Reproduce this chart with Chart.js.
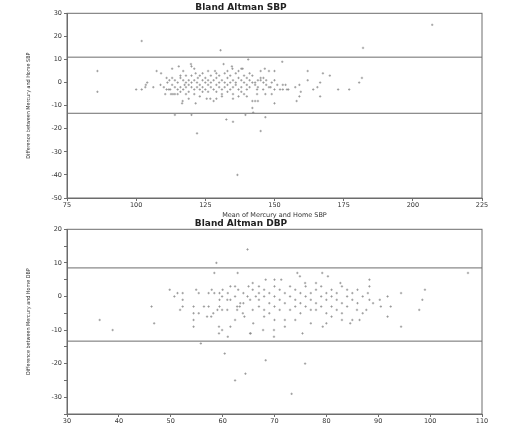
<!DOCTYPE html>
<html>
<head>
<meta charset="utf-8">
<script src="https://cdn.jsdelivr.net/npm/chart.js@4/dist/chart.umd.min.js"></script>
<style>
  html, body { margin: 0; padding: 0; background: #fff; }
  #page { position: relative; width: 507px; height: 432px; overflow: hidden; }
  canvas { position: absolute; left: 0; }
  #sbpCanvas { top: 0; }
  #dbpCanvas { top: 216px; }
</style>
</head>
<body>
<div id="page">
  <canvas id="sbpCanvas" width="507" height="222"></canvas>
  <canvas id="dbpCanvas" width="507" height="216"></canvas>
</div>
<script>
// SBP: mean of the two readings vs difference (mercury - home)
const sbpMean = [
  86, 86, 102, 100, 102, 103.5, 104, 103.3, 107.4, 109, 106.2, 108.8, 110.5, 112.6, 113.3, 113, 111, 111.3, 111.8, 112.3,
  114, 115.4, 116, 116.8, 116.6, 117.5, 119.8, 120, 114, 120, 121.5, 122, 121.5, 122.3, 125.5, 126.8, 128, 128.5, 129, 130.5,
  131.6, 132.6, 135, 136.6, 134.6, 134.8, 138, 138.5, 140.5, 139.5, 142, 142.3, 143,
  207, 182, 152.8, 145, 146.5, 148, 150, 162, 167.5, 170, 181.6, 180.6, 162, 166.5, 165.5, 164, 173, 177, 159, 157.5,
  159.5, 159, 158, 166.5, 151, 153, 154, 152, 153, 154.5, 155, 148, 148.6, 143.7, 145.9, 150, 143.7, 146.7, 149, 142,
  144, 150, 146.7, 145, 145, 146, 145, 150, 141, 142, 143,
  110, 111, 112, 113, 113, 114, 114, 115, 115, 115, 116, 116, 116, 117, 117, 118, 118, 118, 118, 119,
  119, 119, 120, 120, 120, 121, 121, 121, 122, 122, 123, 123, 123, 124, 124, 124, 125, 125, 125, 126,
  126, 126, 127, 127, 127, 128, 128, 129, 129, 129, 130, 130, 130, 131, 131, 131, 132, 132, 132, 133,
  133, 133, 134, 134, 134, 135, 135, 135, 136, 136, 136, 137, 137, 138, 138, 138, 139, 139, 139, 140,
  140, 140, 141, 141, 142, 143, 144, 144, 146, 147, 147, 149, 126, 124, 121, 133, 137, 117, 119, 123,
  129, 131, 135, 137, 140
];
const sbpDiff = [
  5, -4, 18, -3, -3, -1, 0, -2, 5, 4, -2, -1, -5, -5, -5, 6, 2, 0, -3, -3,
  -2, 7, 3, -8, -9, -1, 8, 7, -14, -14, -9, -22, 4, 2, -7, -7, -8, 5, 4, 14,
  8, -16, -17, -40, 7, 6, 6, 6, 10, -14, -11, -13, -8,
  25, 15, 9, 5, 6, 5, 5, 5, 4, 3, 2, 0, 1, 0, -2, -3, -3, -3, -1, -2,
  -4, -6, -8, -6, -1, -1, -1, -3, -3, -3, -3, -2, -2, -3, -3, -3, -5, -5, -5, -8,
  -8, -9, -15, -21, 2, 2, 1, 1, 1, 0, 0,
  -2, -3, 1, 2, -1, 1, -5, 0, -3, -5, 2, -2, -4, 1, -3, 3, 0, -2, -5, 1,
  -1, -4, 3, 0, -2, 1, -3, -5, 0, -2, 3, -1, -3, 1, -2, -4, 2, 0, -3, 1,
  -1, -4, 3, 0, -2, 1, -3, 2, -1, -4, 0, -2, 3, 1, -3, -5, 4, 0, -2, 2,
  -1, -4, 3, 0, -3, 1, -2, -5, 4, 0, -1, 2, -3, 1, -2, -4, 3, 0, -5, 2,
  -1, -3, -2, 4, 3, -1, 1, -2, 0, 1, -1, 0, 5, 4, 6, 5, 5, 5, -7, -6,
  -7, -6, -7, -6, -6
];
const sbpLimits = [11, -13.3];

// DBP
const dbpMean = [
  36.3, 38.8, 46.3, 46.8, 49.8, 50.7, 51.3, 52.3, 51.8, 52.3, 52.3, 54.4, 54.4, 54.4, 54.4, 54.9, 55.4, 55.4, 55.8, 56.4,
  57.3, 57, 57.8, 57.3, 57.9, 58.4, 58.2, 58.4, 58.8, 59, 59.4, 59.4, 59.4, 59.3, 59.3, 59.9, 59.9, 59.9, 60.4, 60.9,
  60.9, 61, 61.5, 61.5, 61.5, 62.4, 62.4, 62.4, 62.4, 62.8, 63.3, 62.8, 62.9, 63.4, 63.9, 64.2, 64.4, 64.8, 65.3, 65.4,
  65.8, 65.8, 65.8, 65.9, 64.8, 66.4, 67,
  107.3, 74.4, 74.9, 79.2, 80.3, 68.3, 71.3, 75.9, 78, 82.7, 88.3, 88.3, 99, 94.4, 91.8, 98.5, 90.3, 88.3, 90.5, 92.4,
  97.9, 87.7, 85.9, 91.8, 94.4, 86.4, 85, 84.6, 79.3, 75.4, 69.9, 67.8, 69.9, 65.3, 68.3, 75.9, 73.3,
  67, 67, 67, 68, 68, 68, 68, 69, 69, 69, 70, 70, 70, 70, 71, 71, 71, 72, 72, 72,
  73, 73, 73, 74, 74, 74, 74, 75, 75, 75, 76, 76, 76, 77, 77, 77, 78, 78, 78, 79,
  79, 79, 80, 80, 80, 81, 81, 81, 81, 82, 82, 82, 83, 83, 83, 84, 84, 84, 85, 85,
  86, 86, 87, 87, 88, 89, 83, 80, 77, 72, 70, 65, 64, 63, 64, 61, 60
];
const dbpDiff = [
  -7, -10, -3, -8, 2, 0, 1, 1, -4, -1, -3, -3, -5, -7, -9, 2, 1, -5, -14, -3,
  -3, -6, -6, 1, 2, 1, -5, 7, 10, -4, 1, -1, -3, -9, -11, -4, 0, -10, -17, -1,
  -4, -12, 3, -1, -9, 3, 0, -7, -25, -3, -3, -4, 7, -2, -5, -6, -23, 14, -1, -11,
  4, 2, -4, -8, 0, 0, 1,
  7, 7, 6, 7, 6, 5, 5, 4, 4, 4, 5, 3, 2, 1, 0, -1, -1, -1, -3, -3,
  -4, -4, -4, -6, -9, -7, -7, -8, -9, -11, -12, -10, -10, -11, -19, -20, -29,
  3, -1, -3, 2, 0, -4, -6, 1, -2, -5, 3, 0, -3, -7, 2, -1, -4, 1, -2, -7,
  3, 0, -4, 2, -1, -3, -7, 1, -2, -5, 3, 0, -3, 1, -1, -4, 2, -2, -4, 0,
  -3, 3, 1, -1, -5, 2, 0, -3, -6, 1, -1, -4, 3, -2, -5, 2, 0, -3, 1, -1,
  2, -2, 0, -5, 1, -2, -7, -8, -8, -9, 5, 3, 1, 2, -2, 1, 2
];
const dbpLimits = [8.5, -13.3];

const frameBox = {
  id: 'frameBox',
  afterDatasetsDraw(chart) {
    const a = chart.chartArea;
    const ctx = chart.ctx;
    ctx.save();
    ctx.strokeStyle = '#6d6d6d';
    ctx.lineWidth = 1;
    ctx.strokeRect(a.left, a.top, a.right - a.left, a.bottom - a.top);
    ctx.restore();
  }
};

function toPoints(xs, ys) {
  return xs.map((x, i) => ({ x: x, y: ys[i] }));
}

function limitLine(value, xMin, xMax) {
  return {
    type: 'line',
    data: [{ x: xMin, y: value }, { x: xMax, y: value }],
    borderColor: '#6d6d6d',
    borderWidth: 1,
    pointRadius: 0,
    fill: false
  };
}

function makeChart(canvasId, cfg) {
  const ctx = document.getElementById(canvasId).getContext('2d');
  const datasets = [{
    type: 'scatter',
    data: toPoints(cfg.means, cfg.diffs),
    pointStyle: 'cross',
    pointRadius: 1.2,
    borderColor: '#8a8a8a',
    borderWidth: 0.7
  }];
  cfg.limits.forEach(v => datasets.push(limitLine(v, cfg.xMin, cfg.xMax)));

  return new Chart(ctx, {
    type: 'scatter',
    data: { datasets: datasets },
    options: {
      responsive: false,
      animation: false,
      layout: { padding: { left: 0, right: 25, top: 0, bottom: 0 } },
      plugins: {
        legend: { display: false },
        tooltip: { enabled: false },
        title: {
          display: true,
          text: cfg.title,
          color: '#222',
          font: { family: 'DejaVu Sans', size: 9, weight: 'bold' },
          padding: { top: 2, bottom: 0.5 }
        }
      },
      scales: {
        x: {
          type: 'linear',
          min: cfg.xMin,
          max: cfg.xMax,
          afterFit: (scale) => { scale.height = cfg.xAxisHeight; },
          border: { color: '#6d6d6d' },
          grid: { drawOnChartArea: false, tickLength: 3, color: '#6d6d6d' },
          ticks: {
            stepSize: cfg.xStep,
            padding: 0,
            maxRotation: 0,
            color: '#333',
            font: { family: 'DejaVu Sans', size: 6.5 }
          },
          title: {
            display: !!cfg.xTitle,
            text: cfg.xTitle,
            color: '#333',
            font: { family: 'DejaVu Sans', size: 6.5 },
            padding: { top: 0, bottom: 3 }
          }
        },
        y: {
          type: 'linear',
          min: cfg.yMin,
          max: cfg.yMax,
          afterFit: (scale) => { scale.width = 67; },
          border: { color: '#6d6d6d' },
          grid: { drawOnChartArea: false, tickLength: 3, color: '#6d6d6d' },
          ticks: {
            stepSize: cfg.yStep,
            padding: 2,
            color: '#333',
            font: { family: 'DejaVu Sans', size: 6.5 },
            callback: (v) => (v % 10 === 0 ? v : '')
          },
          title: {
            display: true,
            text: cfg.yTitle,
            color: '#333',
            font: { family: 'DejaVu Sans Condensed', size: 5.4 },
            padding: { top: 25, bottom: 0 }
          }
        }
      }
    },
    plugins: [frameBox]
  });
}

makeChart('sbpCanvas', {
  title: 'Bland Altman SBP',
  means: sbpMean, diffs: sbpDiff, limits: sbpLimits,
  xMin: 75, xMax: 225, xStep: 25,
  yMin: -50, yMax: 30, yStep: 10,
  xAxisHeight: 24,
  xTitle: 'Mean of Mercury and Home SBP',
  yTitle: 'Difference between Mercury and Home SBP'
});

makeChart('dbpCanvas', {
  title: 'Bland Altman DBP',
  means: dbpMean, diffs: dbpDiff, limits: dbpLimits,
  xMin: 30, xMax: 110, xStep: 10,
  yMin: -35, yMax: 20, yStep: 5,
  xAxisHeight: 18,
  xTitle: '',
  yTitle: 'Difference between Mercury and Home DBP'
});
</script>
</body>
</html>
